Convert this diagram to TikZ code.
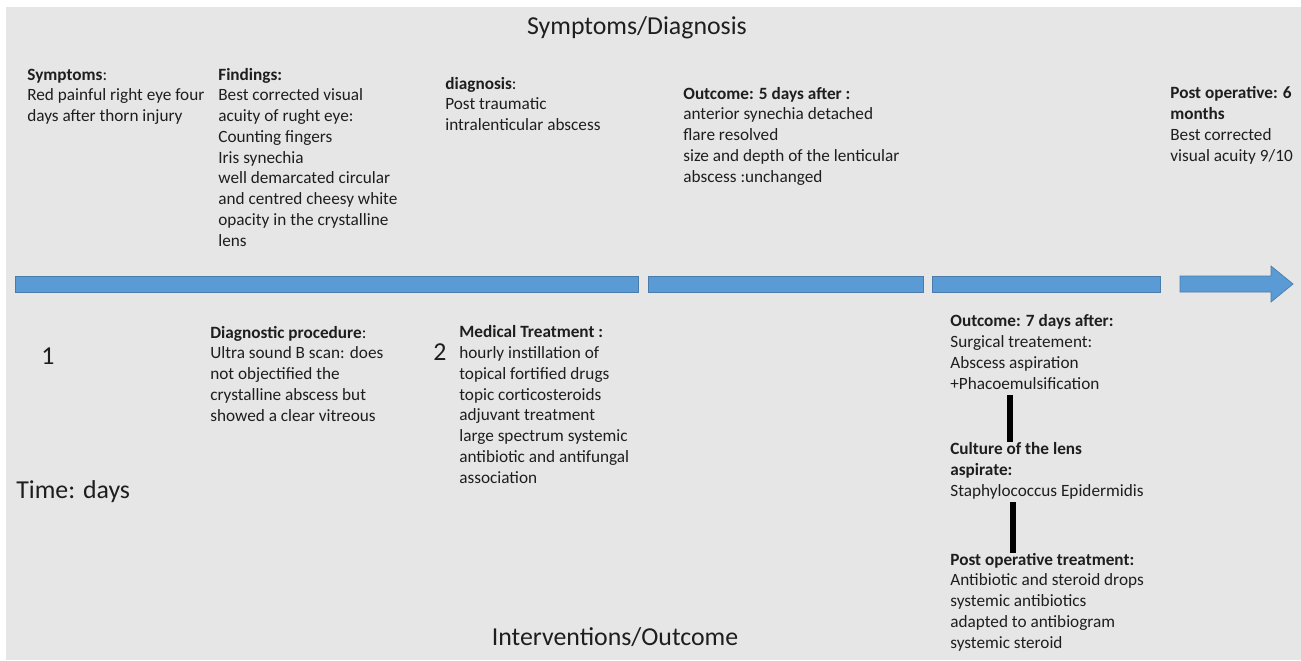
\documentclass[tikz,border=0pt]{standalone}
\usepackage{fontspec}
\setmainfont{Carlito}
\usepackage{tikz}
\usepackage{xcolor}
\definecolor{panel}{HTML}{E7E6E6}
\definecolor{barblue}{HTML}{5B9BD5}
\definecolor{ink}{HTML}{1E1E1E}
\tikzset{
	% multi-line text sits on the baseline of its last line
	txt/.style={anchor=base west, align=left, inner sep=0pt, text=ink,
			font=\fontsize{9.8}{11.8}\selectfont},
	big/.style={inner sep=0pt, text=ink, font=\fontsize{14.7}{17}\selectfont},
	bar/.style={fill=barblue, draw=barblue!80!black, line width=0.4pt},
	vbar/.style={line width=0.12cm, black}
}

\begin{document}
\begin{tikzpicture}[x=0.02cm, y=-0.02cm]
	% Page and grey panel
	\useasboundingbox (0,0) rectangle (1301,660);
	\fill[white] (0,0) rectangle (1301,660);
	\fill[panel] (6,7) rectangle (1301,660);

	% Headings
	\node (title) at (637,34) [big, anchor=base] {Symptoms/Diagnosis};
	\node (interv) at (615,645) [big, anchor=base] {Interventions/Outcome};

	% Timeline bars
	\filldraw[bar] (15,276) rectangle (638,292);
	\filldraw[bar] (648,276) rectangle (923,292);
	\filldraw[bar] (932,276) rectangle (1160,292);
	\filldraw[bar] (1180,276) -- (1271,276) -- (1271,266) -- (1293,284)
		-- (1271,302) -- (1271,292) -- (1180,292) -- cycle;

	% Upper row
	\node (sympt) at (27,121.5) [txt] {\textbf{Symptoms}:\\Red painful right eye four\\days after thorn injury};
	\node (find) at (218,246) [txt] {\textbf{Findings:}\\Best corrected visual\\acuity of rught eye:\\Counting fingers\\Iris synechia\\well demarcated circular\\and centred cheesy white\\opacity in the crystalline\\lens};
	\node (diag) at (445,130.5) [txt] {\textbf{diagnosis}:\\Post traumatic\\intralenticular abscess};
	\node (out5) at (683,182) [txt] {\textbf{Outcome: 5 days after :}\\anterior synechia detached\\flare resolved\\size and depth of the lenticular\\abscess :unchanged};
	\node (post6) at (1170,161) [txt] {\textbf{Post operative: 6}\\\textbf{months}\\Best corrected\\visual acuity 9/10};

	% Lower row
	\node (one) at (41,364) [big, anchor=base west] {1};
	\node (time) at (16,498) [big, anchor=base west] {Time: days};
	\node (proc) at (210,421) [txt] {\textbf{Diagnostic procedure}:\\Ultra sound B scan: does\\not objectified the\\crystalline abscess but\\showed a clear vitreous};
	\node (two) at (433,360) [big, anchor=base west] {2};
	\node (treat) at (459,483) [txt] {\textbf{Medical Treatment :}\\hourly instillation of\\topical fortified drugs\\topic corticosteroids\\adjuvant treatment\\large spectrum systemic\\antibiotic and antifungal\\association};

	% Surgery branch
	\node (out7) at (950,389) [txt] {\textbf{Outcome: 7 days after:}\\Surgical treatement:\\Abscess aspiration\\+Phacoemulsification};
	\node (culture) at (950,496) [txt] {\textbf{Culture of the lens}\\\textbf{aspirate:}\\Staphylococcus Epidermidis};
	\node (postop) at (950,648) [txt] {\textbf{Post operative treatment:}\\Antibiotic and steroid drops\\systemic antibiotics\\adapted to antibiogram\\systemic steroid};

	\draw[vbar] ([xshift=1.2cm, yshift=-0.12cm]out7.south west) -- ([xshift=1.2cm]out7.south west |- culture.north);
	\draw[vbar] ([xshift=1.26cm, yshift=-0.06cm]culture.south west) -- ([xshift=1.26cm]culture.south west |- postop.north);
\end{tikzpicture}
\end{document}
